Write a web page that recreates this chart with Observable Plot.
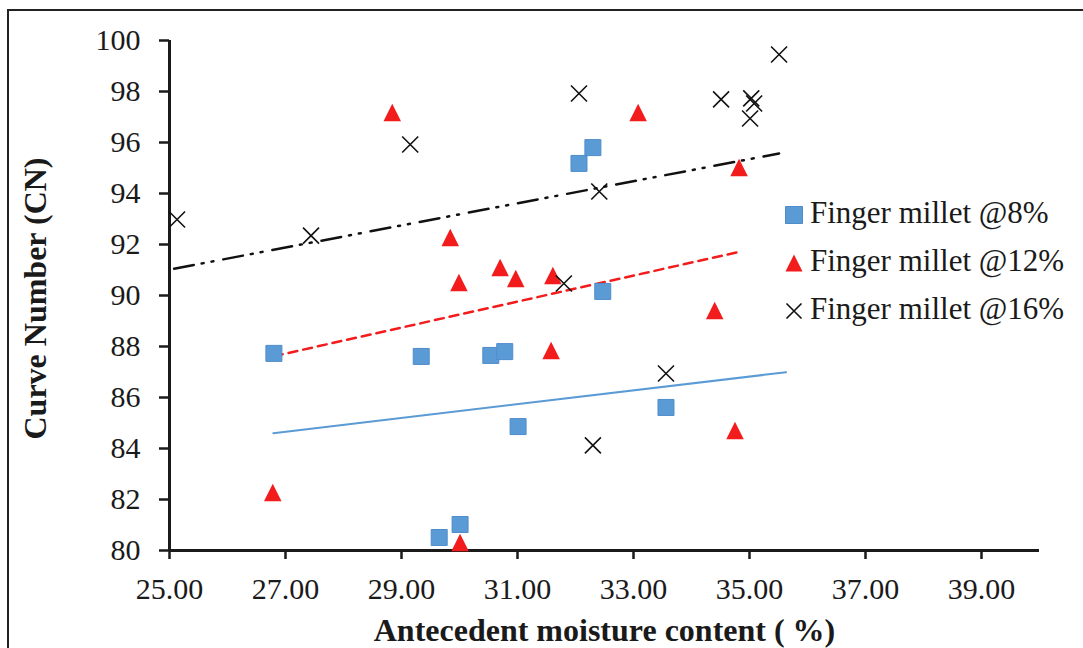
<!DOCTYPE html>
<html><head><meta charset="utf-8">
<script src="https://cdn.jsdelivr.net/npm/d3@7"></script>
<script src="https://cdn.jsdelivr.net/npm/@observablehq/plot@0.6"></script>
<style>
html,body{margin:0;padding:0;background:#fff;overflow:hidden;}
#chart{position:relative;width:1083px;height:648px;}
</style></head><body><div id="chart"></div>
<script>
// ---- data ----
const seriesNames = ["Finger millet @8%", "Finger millet @12%", "Finger millet @16%"];
const xTicks = [25, 27, 29, 31, 33, 35, 37, 39];
const yTicks = [80, 82, 84, 86, 88, 90, 92, 94, 96, 98, 100];
const xLabel = "Antecedent moisture content ( %)";
const yLabel = "Curve Number (CN)";

const x8  = [26.80, 29.34, 30.54, 30.78, 31.01, 29.65, 30.01, 32.47, 32.06, 32.30, 33.56];
const y8  = [87.73, 87.61, 87.65, 87.80, 84.86, 80.51, 81.02, 90.16, 95.18, 95.80, 85.61];
const x12 = [26.78, 28.84, 29.84, 29.99, 30.01, 30.70, 30.97, 31.58, 31.61, 33.08, 34.40, 34.75, 34.82];
const y12 = [82.27, 97.18, 92.27, 90.51, 80.31, 91.10, 90.67, 87.84, 90.78, 97.18, 89.41, 84.71, 95.02];
const x16 = [25.13, 27.44, 29.15, 31.80, 32.06, 32.30, 32.41, 33.56, 34.51, 35.01, 35.03, 35.08, 35.51];
const y16 = [92.98, 92.35, 95.92, 90.47, 97.92, 84.12, 94.08, 86.94, 97.69, 96.94, 97.73, 97.53, 99.45];

// linear trendline end points (as drawn in the figure)
const trend8X  = [26.79, 35.63], trend8Y  = [84.60, 86.99];
const trend12X = [26.80, 34.78], trend12Y = [87.62, 91.69];
const trend16X = [25.08, 35.51], trend16Y = [91.05, 95.57];

// ---- build ----
const pts = (xs, ys) => xs.map((x, i) => ({x, y: ys[i]}));
const d8 = pts(x8, y8), d12 = pts(x12, y12), d16 = pts(x16, y16);
const t8 = pts(trend8X, trend8Y), t12 = pts(trend12X, trend12Y), t16 = pts(trend16X, trend16Y);

const sq = {draw(c, s) { const h = Math.sqrt(s) / 2; c.rect(-h, -h, 2 * h, 2 * h); }};
const tri = {draw(c, s) { const h = Math.sqrt(s) / 2; c.moveTo(0, -h); c.lineTo(h, h); c.lineTo(-h, h); c.closePath(); }};
const tms = {draw(c, s) { const h = Math.sqrt(s) / 2; c.moveTo(-h, -h); c.lineTo(h, h); c.moveTo(h, -h); c.lineTo(-h, h); }};
const side = s => s / Math.sqrt(Math.PI);

const BLUE = "#5b9bd5", RED = "#f21c1c", BLACK = "#111";
const FONT = "'Liberation Serif', 'Times New Roman', serif";

const plot = Plot.plot({
  width: 1083, height: 648,
  marginLeft: 169, marginRight: 44, marginTop: 40, marginBottom: 98,
  style: {fontFamily: FONT, fontSize: "30px", color: "#1a1a1a", background: "transparent", overflow: "visible"},
  x: {domain: [25, 40]},
  y: {domain: [80, 100]},
  marks: [
    Plot.axisX({ticks: xTicks, tickFormat: d3.format(".2f"), tickSize: 9, tickPadding: 18, strokeWidth: 2.5, fontSize: 30, fontFamily: FONT, label: null}),
    Plot.axisY({ticks: yTicks, tickSize: 10, tickPadding: 19, strokeWidth: 2.5, fontSize: 30, fontFamily: FONT, label: null}),
    Plot.ruleX([25], {strokeWidth: 3, stroke: "#1a1a1a"}),
    Plot.ruleY([80], {strokeWidth: 3, stroke: "#1a1a1a"}),
    Plot.line(t8, {x: "x", y: "y", stroke: BLUE, strokeWidth: 2}),
    Plot.line(t12, {x: "x", y: "y", stroke: RED, strokeWidth: 2.5, strokeDasharray: "9,6"}),
    Plot.line(t16, {x: "x", y: "y", stroke: BLACK, strokeWidth: 2.5, strokeDasharray: "20,8,2,8,2,10"}),
    Plot.dot(d8, {x: "x", y: "y", symbol: sq, r: side(16), fill: BLUE, stroke: "#4f8ccb", strokeWidth: 1}),
    Plot.dot(d12, {x: "x", y: "y", symbol: tri, r: side(17.5), fill: RED, stroke: "none"}),
    Plot.dot(d16, {x: "x", y: "y", symbol: tms, r: side(16), fill: "none", stroke: BLACK, strokeWidth: 1.6}),
    Plot.text([xLabel], {frameAnchor: "bottom", textAnchor: "middle", dy: 90, lineAnchor: "bottom", fontSize: 32, fontWeight: "bold", fontFamily: FONT, fill: "#1a1a1a"}),
    Plot.text([yLabel], {frameAnchor: "left", textAnchor: "middle", dx: -124, dy: 3, rotate: -90, lineAnchor: "bottom", fontSize: 32, fontWeight: "bold", fontFamily: FONT, fill: "#1a1a1a"})
  ]
});

// legend (inside plot, right side)
const svg = d3.select(plot);
const lg = svg.append("g").attr("font-family", FONT).attr("font-size", 31).attr("fill", "#1a1a1a").attr("text-anchor", "start");
const legSyms = [
  {sym: sq, fill: BLUE, stroke: "#4f8ccb", sw: 1, size: 17},
  {sym: tri, fill: RED, stroke: "none", sw: 0, size: 17},
  {sym: tms, fill: "none", stroke: BLACK, sw: 1.6, size: 15}
];
seriesNames.forEach((name, i) => {
  const cy = 215 + 48 * i;
  lg.append("path").attr("transform", `translate(794,${cy})`)
    .attr("d", d3.symbol(legSyms[i].sym, legSyms[i].size * legSyms[i].size)())
    .attr("fill", legSyms[i].fill).attr("stroke", legSyms[i].stroke).attr("stroke-width", legSyms[i].sw);
  lg.append("text").attr("x", 810).attr("y", 223 + 48 * i).attr("text-anchor", "start").text(name);
});

// outer frame of the figure
svg.append("path").attr("d", "M8,648V10H1083").attr("fill", "none").attr("stroke", "#222").attr("stroke-width", 2);

document.getElementById("chart").appendChild(plot);
</script>
</body></html>
